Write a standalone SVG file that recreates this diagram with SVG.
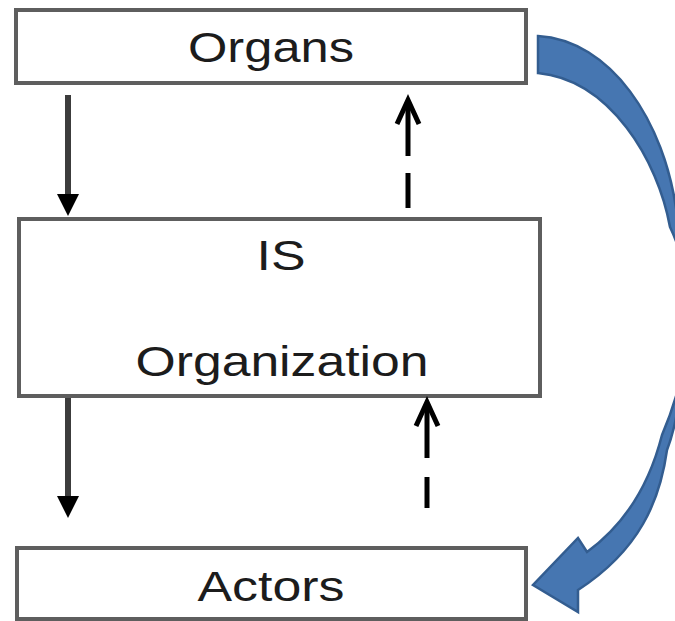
<svg xmlns="http://www.w3.org/2000/svg" width="675" height="621" viewBox="0 0 675 621">
<style>
.box{fill:#ffffff;stroke:#5e5e5e;stroke-width:4}
.lbl{font-family:"Liberation Sans",Arial,sans-serif;font-size:43px;fill:#1c1c1c;text-anchor:middle}
.solid{stroke:#3c3c3c;stroke-width:6;fill:none}
.dash{stroke:#000000;stroke-width:5;fill:none}
.head{fill:#000000}
.chev{stroke:#000000;stroke-width:5;fill:none;stroke-linejoin:miter}
.curve{fill:#4676b1;stroke:#335d90;stroke-width:2.5;stroke-linejoin:miter}
</style>
<rect width="675" height="621" fill="#ffffff"/>
<g id="organs">
<rect class="box" x="16" y="10" width="510" height="73"/>
<text class="lbl" x="271" y="62" textLength="166" lengthAdjust="spacingAndGlyphs">Organs</text>
</g>
<g id="is-organization">
<rect class="box" x="19" y="219" width="521" height="177"/>
<text class="lbl" x="281" y="270" textLength="49" lengthAdjust="spacingAndGlyphs">IS</text>
<text class="lbl" x="282" y="376" textLength="293" lengthAdjust="spacingAndGlyphs">Organization</text>
</g>
<g id="actors">
<rect class="box" x="17" y="548" width="509" height="71"/>
<text class="lbl" x="271" y="601" textLength="147" lengthAdjust="spacingAndGlyphs">Actors</text>
</g>
<g id="connectors">
<line class="solid" x1="68" y1="95" x2="68" y2="198"/>
<polygon class="head" points="57,194 79,194 68,216"/>
<line class="solid" x1="68" y1="398" x2="68" y2="500"/>
<polygon class="head" points="57,496 79,496 68,518"/>
<polyline class="chev" points="397,124 408,100 419,124"/>
<line class="dash" x1="408" y1="104" x2="408" y2="156"/>
<line class="dash" x1="408" y1="173" x2="408" y2="208"/>
<polyline class="chev" points="416,426 427,402 438,426"/>
<line class="dash" x1="427" y1="406" x2="427" y2="458"/>
<line class="dash" x1="427" y1="477" x2="427" y2="508"/>
<path class="curve" d="M538,36 C610,40 665,120 677,215 C690,300 686,400 667,450 C660,500 640,550 578,590 L578,612 L533,585 L578,538 L587,552 C620,528 648,490 662,435 C690,370 700,290 670,227 C658,160 610,80 538,73 Z"/>
</g>
</svg>
